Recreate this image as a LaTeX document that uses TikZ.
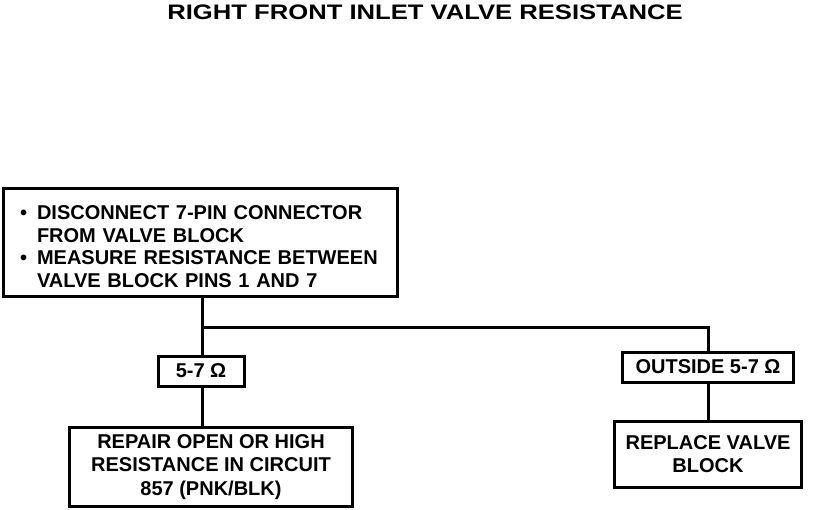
\documentclass[tikz,border=0pt]{standalone}
\usepackage{fontspec}
\setmainfont{Liberation Sans}
\usepackage{tikz}
\tikzset{
    stepbox/.style={draw,line width=3pt,inner sep=0pt,align=center,font=\bfseries\fontsize{20}{23.5}\selectfont},
    flowline/.style={line width=3pt}
}

\begin{document}
\begin{tikzpicture}[x=1pt,y=-1pt]
    \useasboundingbox (0,0) rectangle (816,510);

    \node[font=\bfseries\fontsize{21}{22}\selectfont] (title) at (425,12) {\scalebox{1.22}[1]{RIGHT FRONT INLET VALVE RESISTANCE}};

    \node[stepbox,text width=360pt,inner xsep=17pt,minimum height=108pt,align=left] (check) at (200,243)
        {\raisebox{-6pt}[\height][\depth]{\begin{tabular}{@{}l@{\hspace{10pt}}l@{}}
         \textbullet & DISCONNECT 7-PIN CONNECTOR\\[-1pt]
                     & FROM VALVE BLOCK\\[-1pt]
         \textbullet & MEASURE RESISTANCE BETWEEN\\[-1pt]
                     & VALVE BLOCK PINS 1 AND 7
         \end{tabular}}};

    \node[stepbox,minimum width=86pt,minimum height=30pt] (inrange) at (201,371) {5-7 Ω};
    \node[stepbox,minimum width=171pt,minimum height=30pt] (outrange) at (708,367) {OUTSIDE 5-7 Ω};

    \node[stepbox,minimum width=283pt,minimum height=79pt] (repair) at (211,467)
        {REPAIR OPEN OR HIGH\\ RESISTANCE IN CIRCUIT\\ 857 (PNK/BLK)};
    \node[stepbox,minimum width=187pt,minimum height=66pt] (replace) at (708,454)
        {REPLACE VALVE\\ BLOCK};

    \coordinate (split) at (202,328);
    \draw[flowline] (check.south -| split) -- (inrange.north -| split);
    \draw[flowline] (split) -| (outrange.north);
    \draw[flowline] (inrange.south -| split) -- (repair.north -| split);
    \draw[flowline] (outrange.south) -- (replace.north);
\end{tikzpicture}
\end{document}
